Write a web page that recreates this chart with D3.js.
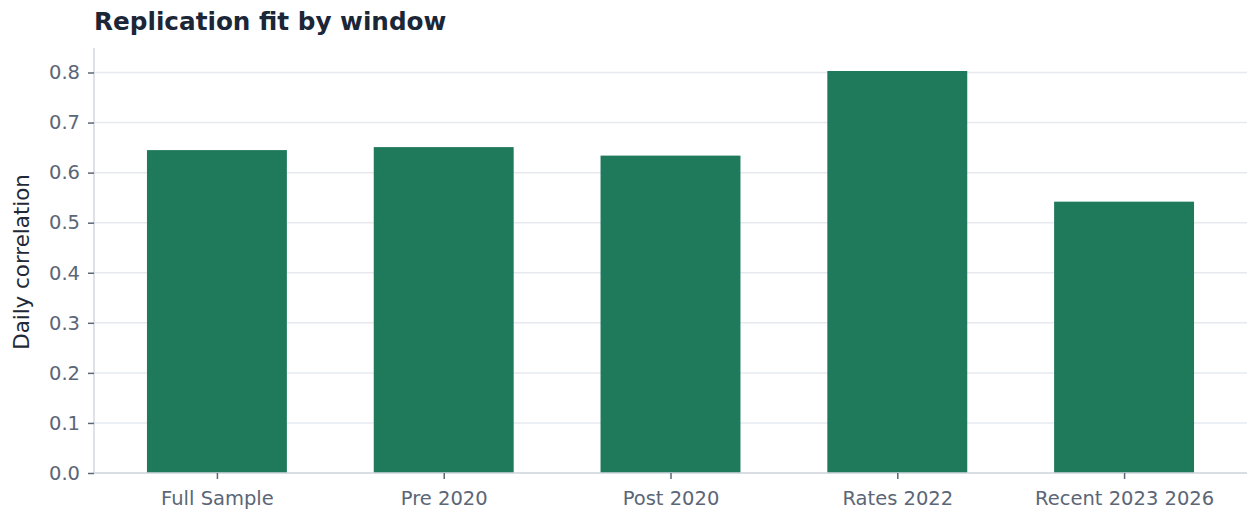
<!DOCTYPE html>
<html>
<head>
<meta charset="utf-8">
<script src="https://cdn.jsdelivr.net/npm/d3@7.9.0/dist/d3.min.js"></script>
<style>
  body { margin: 0; background: #fff; }
  svg text { font-family: "DejaVu Sans", sans-serif; }
</style>
</head>
<body>
<svg id="chart" width="1247" height="513"></svg>
<script>
// Chart data
const windows = ["Full Sample", "Pre 2020", "Post 2020", "Rates 2022", "Recent 2023 2026"];
const correlations = [0.645, 0.651, 0.634, 0.803, 0.542];
const yTicks = [0.0, 0.1, 0.2, 0.3, 0.4, 0.5, 0.6, 0.7, 0.8];

const svg = d3.select("#chart");
const margin = { top: 48, left: 94, right: 0, bottom: 40 };
const width = 1247, height = 513;
const y0 = 473; // baseline

// x as continuous index scale (like matplotlib categorical axis)
const x = d3.scaleLinear().domain([-0.542, 4.542]).range([margin.left, width - margin.right]);
const y = d3.scaleLinear().domain([0, 0.8]).range([y0, 72.5]);
const barW = x(0.617) - x(0);

// grid lines
svg.append("g")
  .selectAll("line")
  .data(yTicks)
  .join("line")
  .attr("x1", margin.left)
  .attr("x2", width)
  .attr("y1", d => y(d))
  .attr("y2", d => y(d))
  .attr("stroke", "#e6eaef")
  .attr("stroke-width", 1.5);

// bars
svg.append("g")
  .selectAll("rect")
  .data(correlations)
  .join("rect")
  .attr("x", (d, i) => x(i) - barW / 2)
  .attr("y", d => y(d))
  .attr("width", barW)
  .attr("height", d => y0 - y(d))
  .attr("fill", "#1f7a5c");

// y axis
const yAxis = svg.append("g")
  .attr("transform", `translate(${margin.left},0)`)
  .call(d3.axisLeft(y).tickValues(yTicks).tickFormat(d3.format(".1f")).tickSize(6).tickPadding(8));
yAxis.select(".domain").attr("stroke", "#d3d9df").attr("stroke-width", 1.5)
  .attr("d", `M0,${y0}V48`);
yAxis.selectAll(".tick line").attr("stroke", "#5b6676").attr("stroke-width", 1.5);
yAxis.selectAll(".tick text").attr("fill", "#5b6676").attr("font-size", 19.5);

// x axis
const xAxis = svg.append("g")
  .attr("transform", `translate(0,${y0})`)
  .call(d3.axisBottom(x).tickValues(d3.range(windows.length)).tickFormat(i => windows[i]).tickSize(6).tickPadding(12));
xAxis.select(".domain").attr("stroke", "#d3d9df").attr("stroke-width", 1.5)
  .attr("d", `M${margin.left},0H${width}`);
xAxis.selectAll(".tick line").attr("stroke", "#5b6676").attr("stroke-width", 1.5);
xAxis.selectAll(".tick text").attr("fill", "#5b6676").attr("font-size", 19.5);

// y label
svg.append("text")
  .attr("transform", `translate(29,262) rotate(-90)`)
  .attr("text-anchor", "middle")
  .attr("fill", "#1f2937")
  .attr("font-size", 21.4)
  .text("Daily correlation");

// title
svg.append("text")
  .attr("x", 94)
  .attr("y", 30)
  .attr("fill", "#1b2637")
  .attr("font-size", 24.7)
  .attr("font-weight", "bold")
  .text("Replication fit by window");
</script>
</body>
</html>
